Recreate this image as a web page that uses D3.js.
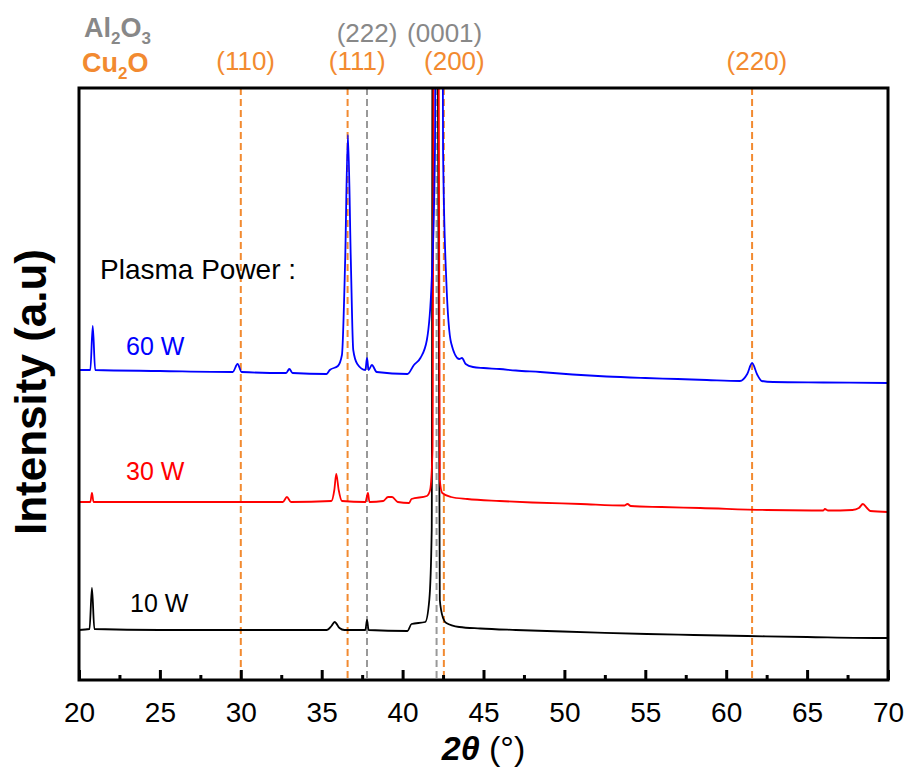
<!DOCTYPE html>
<html>
<head>
<meta charset="utf-8">
<script src="https://cdn.jsdelivr.net/npm/d3@7"></script>
<style>
  body { margin: 0; background: #fff; }
  svg { display: block; font-family: Arial, "Liberation Sans", sans-serif; }
</style>
</head>
<body>
<div id="chart"></div>
<script>
// XRD scans, [2theta, intensity (a.u.)]
const w10 = [[20,50],[20.65,51],[20.8,92],[20.95,51],[25,50],[30,50],[35.3,50],[35.6,54],[35.8,58],[36.1,52],[36.4,50],
  [37.7,50],[37.8,60],[37.9,50],[40.3,49],[40.55,56],[41.4,58],[41.65,80],[41.8,150],[41.9,1400],[42.0,1400],
  [42.3,80],[42.5,62],[42.7,57],[43.5,53],[44.8,51.5],[47,50],[49.9,48.5],[52.5,47.2],[55.1,46],[58,45],[61.3,44],
  [65,43],[69.9,42],[70,42]];

const w30 = [[20,178],[20.7,178],[20.8,187],[20.9,178],[25,178],[30,178],[32.6,178],[32.85,183],[33.1,178],[35.6,179],
  [35.78,190],[35.9,206],[36.05,190],[36.25,179],[37.7,178],[37.86,187],[37.95,178],[38.8,179],[39.1,183],[39.35,183],
  [39.7,178],[40.4,177],[40.55,181],[41.5,184],[41.7,190],[41.85,230],[42.0,1400],[42.1,1400],[42.3,200],[42.45,187],
  [43,183],[44,181],[46,179],[48,177.5],[51,176],[53.7,174.5],[53.9,176],[54.1,174],[56,173],[58.4,172],[62.5,170],
  [66,169.5],[66.1,171],[66.3,169.5],[67.8,170],[68.2,172],[68.45,176],[68.7,172],[68.9,169],[70,168]];

const w60 = [[20,310],[20.7,310],[20.85,354],[21.0,310],[25,309],[29.5,308],[29.8,316],[30.05,308],[32.8,307],[33.0,311],
  [33.2,307],[35.3,306],[35.5,310],[36.0,314],[36.25,325],[36.45,420],[36.62,545],[36.8,420],[36.95,330],[37.2,316],
  [37.7,310],[37.8,322],[37.9,310],[38.1,315],[38.4,308],[40.3,306],[40.7,315],[41.1,322],[41.5,340],[41.8,400],
  [42.0,530],[42.15,1400],[42.35,1400],[42.5,530],[42.7,400],[43.0,337],[43.5,321],[43.67,322],[43.9,316],[44.35,313],
  [45,312],[46,311],[47,309.5],[48.5,308],[50.5,305.5],[52.6,303.5],[55,302],[57,301],[58.8,300],[60.85,299],[61.3,306],
  [61.6,317],[61.9,306],[62.2,299],[62.9,298],[66,297.5],[70,297]];

const seriesNames = ["10 W", "30 W", "60 W"];
const seriesColors = ["#000000", "#ff0000", "#0000ff"];

// reference peak positions
const cu2oPeaks = [30.0, 36.6, 42.55, 61.6];
const cu2oLabels = ["(110)", "(111)", "(200)", "(220)"];
const cu2oLabelAt = [30.3, 37.2, 43.2, 61.9];
const al2o3Peaks = [37.8, 42.1];
const al2o3Labels = ["(222)", "(0001)"];
const al2o3LabelAt = [37.8, 42.6];

const xTicks = d3.range(20, 71, 5);
const xMinor = d3.range(22.5, 70, 5);

const W = 907, H = 771;
const margin = { top: 88, right: 19, bottom: 91, left: 79 };
const width = W - margin.left - margin.right;
const height = H - margin.top - margin.bottom;

const svg = d3.select("#chart").append("svg").attr("width", W).attr("height", H);
const g = svg.append("g").attr("transform", `translate(${margin.left},${margin.top})`);

const x = d3.scaleLinear().domain([20, 70]).range([0, width]);
const y = d3.scaleLinear().domain([0, 592]).range([height, 0]);

g.append("clipPath").attr("id", "clip")
  .append("rect").attr("width", width).attr("height", height);

// dashed reference lines
const refs = g.append("g");
cu2oPeaks.forEach(p => {
  refs.append("line").attr("x1", x(p)).attr("x2", x(p)).attr("y1", 0).attr("y2", height)
    .attr("stroke", "#f28a30").attr("stroke-width", 2).attr("stroke-dasharray", "7,4");
});
al2o3Peaks.forEach(p => {
  refs.append("line").attr("x1", x(p)).attr("x2", x(p)).attr("y1", 0).attr("y2", height)
    .attr("stroke", "#999").attr("stroke-width", 2).attr("stroke-dasharray", "7,4");
});

// traces
const line = d3.line().x(d => x(d[0])).y(d => y(d[1])).curve(d3.curveMonotoneX);
[w10, w30, w60].forEach((s, i) => {
  g.append("path").datum(s)
    .attr("clip-path", "url(#clip)")
    .attr("fill", "none")
    .attr("stroke", seriesColors[i])
    .attr("stroke-width", 1.8)
    .attr("d", line);
});

// axes
g.append("g")
  .attr("transform", `translate(0,${height})`)
  .call(d3.axisBottom(x).tickValues(xTicks).tickSize(-10).tickPadding(22).tickFormat(d3.format("d")))
  .call(a => a.select(".domain").remove())
  .call(a => a.selectAll("line").attr("stroke-width", 3))
  .call(a => a.selectAll("text").attr("font-size", 28).attr("font-family", "Arial, 'Liberation Sans', sans-serif").attr("fill", "#000"));
g.append("g")
  .attr("transform", `translate(0,${height})`)
  .call(d3.axisBottom(x).tickValues(xMinor).tickSize(-5).tickFormat(""))
  .call(a => a.select(".domain").remove())
  .call(a => a.selectAll("line").attr("stroke-width", 3));

g.append("rect").attr("width", width).attr("height", height)
  .attr("fill", "none").attr("stroke", "#000").attr("stroke-width", 3);

// peak labels
cu2oLabels.forEach((t, i) => {
  svg.append("text").attr("x", margin.left + x(cu2oLabelAt[i])).attr("y", 70)
    .attr("text-anchor", "middle").attr("font-size", 26).attr("fill", "#f28a30").text(t);
});
al2o3Labels.forEach((t, i) => {
  svg.append("text").attr("x", margin.left + x(al2o3LabelAt[i])).attr("y", 42)
    .attr("text-anchor", "middle").attr("font-size", 26).attr("fill", "#888").text(t);
});

const al = svg.append("text").attr("x", 84).attr("y", 37).attr("font-size", 27)
  .attr("font-weight", "bold").attr("fill", "#888");
al.append("tspan").text("Al");
al.append("tspan").attr("font-size", 17).attr("dy", 7).text("2");
al.append("tspan").attr("dy", -7).text("O");
al.append("tspan").attr("font-size", 17).attr("dy", 7).text("3");

const cu = svg.append("text").attr("x", 82).attr("y", 72).attr("font-size", 27)
  .attr("font-weight", "bold").attr("fill", "#f28a30");
cu.append("tspan").text("Cu");
cu.append("tspan").attr("font-size", 17).attr("dy", 7).text("2");
cu.append("tspan").attr("dy", -7).text("O");

// series labels
const labelY = [612, 480, 355];
const labelX = [130, 126, 126];
seriesNames.forEach((n, i) => {
  svg.append("text").attr("x", labelX[i]).attr("y", labelY[i])
    .attr("font-size", 25).attr("fill", seriesColors[i]).text(n);
});
svg.append("text").attr("x", 100).attr("y", 279).attr("font-size", 28).attr("fill", "#000")
  .text("Plasma Power :");

// axis titles
const xt = svg.append("text").attr("x", margin.left + width / 2).attr("y", 760)
  .attr("text-anchor", "middle").attr("font-size", 34).attr("fill", "#000");
xt.append("tspan").attr("font-weight", "bold").attr("font-style", "italic").text("2θ");
xt.append("tspan").text(" (°)");

svg.append("text")
  .attr("transform", `translate(46,${margin.top + height / 2 + 8}) rotate(-90)`)
  .attr("text-anchor", "middle").attr("font-size", 44).attr("font-weight", "bold").attr("fill", "#000")
  .text("Intensity (a.u)");
</script>
</body>
</html>
